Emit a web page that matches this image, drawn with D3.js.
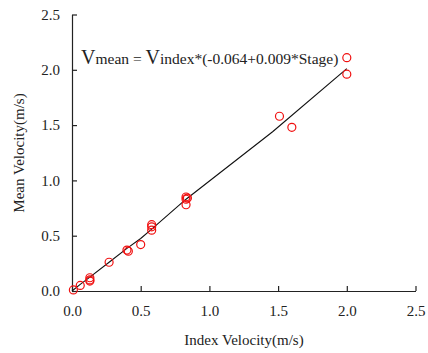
<!DOCTYPE html>
<html>
<head>
<meta charset="utf-8">
<script src="https://cdn.jsdelivr.net/npm/d3@7"></script>
<style>
  body { margin: 0; background: #fff; }
  text { font-family: "Liberation Serif", "Times New Roman", serif; fill: #222; }
</style>
</head>
<body>
<svg id="chart"></svg>
<script>
// measured points (index velocity, mean velocity)
const indexVel = [0.01, 0.06, 0.13, 0.13, 0.13, 0.27, 0.40, 0.41, 0.50, 0.58, 0.58, 0.58, 0.83, 0.83, 0.83, 0.84, 1.51, 1.60, 2.00, 2.00];
const meanVel  = [0.01, 0.05, 0.12, 0.10, 0.09, 0.26, 0.37, 0.36, 0.42, 0.60, 0.58, 0.55, 0.85, 0.83, 0.78, 0.84, 1.58, 1.48, 2.11, 1.96];

// fitted line
const fitX = [0.00, 0.06, 0.13, 0.27, 0.40, 0.50, 0.58, 0.83, 1.46, 2.00];
const fitY = [0.00, 0.06, 0.125, 0.26, 0.385, 0.475, 0.56, 0.83, 1.44, 2.01];

const xTicks = [0, 0.5, 1.0, 1.5, 2.0, 2.5];
const yTicks = [0, 0.5, 1.0, 1.5, 2.0, 2.5];

const width = 428, height = 353;
const svg = d3.select("#chart").attr("width", width).attr("height", height);

const x = d3.scaleLinear().domain([0, 2.5]).range([72, 415.5]);
const y = d3.scaleLinear().domain([0, 2.5]).range([291, 14.5]);

svg.append("g")
  .attr("transform", `translate(0,${y(0)})`)
  .call(d3.axisBottom(x).tickValues(xTicks).tickFormat(d3.format(".1f")).tickSize(-5).tickSizeOuter(0).tickPadding(14));
svg.append("g")
  .attr("transform", `translate(${x(0)},0)`)
  .call(d3.axisLeft(y).tickValues(yTicks).tickFormat(d3.format(".1f")).tickSize(-5).tickSizeOuter(0).tickPadding(12));

svg.selectAll(".domain, .tick line").attr("stroke", "#222").attr("stroke-width", 1.2);
svg.selectAll(".tick text").attr("font-family", "Liberation Serif").attr("font-size", 15).attr("fill", "#222");

// fitted line
const fit = fitX.map((d, i) => [d, fitY[i]]);
svg.append("path")
  .datum(fit)
  .attr("fill", "none")
  .attr("stroke", "#111")
  .attr("stroke-width", 1.1)
  .attr("d", d3.line().x(d => x(d[0])).y(d => y(d[1])));

// points
svg.append("g").selectAll("circle")
  .data(indexVel.map((d, i) => [d, meanVel[i]]))
  .join("circle")
  .attr("cx", d => x(d[0]))
  .attr("cy", d => y(d[1]))
  .attr("r", 4)
  .attr("fill", "none")
  .attr("stroke", "#f01010")
  .attr("stroke-width", 1.2);

// axis titles
svg.append("text")
  .attr("x", 244).attr("y", 345)
  .attr("text-anchor", "middle")
  .attr("font-size", 15)
  .text("Index Velocity(m/s)");
svg.append("text")
  .attr("transform", "translate(24,153) rotate(-90)")
  .attr("text-anchor", "middle")
  .attr("font-size", 15)
  .text("Mean Velocity(m/s)");

// equation
const eq = svg.append("text").attr("x", 81).attr("y", 63.5).attr("font-size", 15.5);
eq.append("tspan").attr("font-size", 20).text("V");
eq.append("tspan").text("mean = ");
eq.append("tspan").attr("font-size", 20).text("V");
eq.append("tspan").text("index*(-0.064+0.009*Stage)");
</script>
</body>
</html>
